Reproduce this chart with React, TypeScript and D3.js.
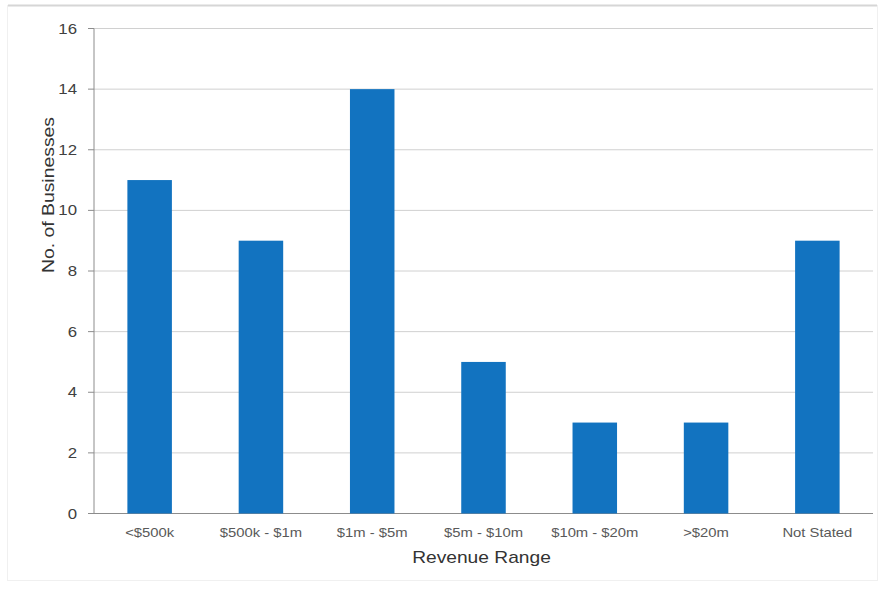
import React from "react";
import * as d3 from "d3";

const categories = ["<$500k", "$500k - $1m", "$1m - $5m", "$5m - $10m", "$10m - $20m", ">$20m", "Not Stated"];
const businesses = [11, 9, 14, 5, 3, 3, 9];
const yTicks = [0, 2, 4, 6, 8, 10, 12, 14, 16];

const W = 880;
const H = 589;
const plot = { left: 94, right: 873, top: 28.5, bottom: 513.5 };
const FONT = "'Liberation Sans', Arial, sans-serif";
const SX = 1.2; // horizontal text widening

export default function App() {
  const x = d3
    .scaleBand<string>()
    .domain(categories)
    .range([plot.left, plot.right])
    .paddingInner(0.6)
    .paddingOuter(0.3);
  const y = d3.scaleLinear().domain([0, 16]).range([plot.bottom, plot.top]);

  return (
    <svg
      width={W}
      height={H}
      style={{ position: "absolute", left: 0, top: 0, background: "#fff" }}
      fontFamily={FONT}
    >
      {/* outer frame */}
      <rect x={7.5} y={5.5} width={870} height={575} fill="none" stroke="#f0f0f0" strokeWidth={1} />
      <line x1={8} x2={877} y1={5.5} y2={5.5} stroke="#d6d6d6" strokeWidth={2} />

      {/* gridlines */}
      {yTicks.map((t) => (
        <line
          key={"g" + t}
          x1={plot.left}
          x2={plot.right}
          y1={y(t)}
          y2={y(t)}
          stroke={t === 0 ? "#8c8c8c" : "#d0d0d0"}
          strokeWidth={1}
        />
      ))}

      {/* y axis line and ticks */}
      <line x1={plot.left} x2={plot.left} y1={plot.top} y2={plot.bottom} stroke="#8c8c8c" />
      {yTicks.map((t) => (
        <line key={"t" + t} x1={plot.left - 6} x2={plot.left} y1={y(t)} y2={y(t)} stroke="#8c8c8c" />
      ))}

      {/* bars */}
      {categories.map((c, i) => (
        <rect
          key={c}
          x={x(c)}
          y={y(businesses[i])}
          width={x.bandwidth()}
          height={y(0) - y(businesses[i])}
          fill="#1273c0"
        />
      ))}

      {/* y tick labels */}
      {yTicks.map((t) => (
        <text
          key={"l" + t}
          transform={`translate(77,${y(t) + 5}) scale(${SX},1)`}
          textAnchor="end"
          fontSize={14}
          fill="#404040"
        >
          {t}
        </text>
      ))}

      {/* x tick labels */}
      {categories.map((c) => (
        <text
          key={"x" + c}
          transform={`translate(${(x(c) as number) + x.bandwidth() / 2},537) scale(${SX * 0.95},1)`}
          textAnchor="middle"
          fontSize={13}
          fill="#595959"
        >
          {c}
        </text>
      ))}

      {/* axis titles */}
      <text
        transform={`translate(${(plot.left + plot.right) / 2 - 2},563) scale(${SX},1)`}
        textAnchor="middle"
        fontSize={16}
        fill="#333"
      >
        Revenue Range
      </text>
      <text
        transform="translate(54,195) rotate(-90)"
        textAnchor="middle"
        fontSize={16}
        fill="#333"
        textLength={156}
        lengthAdjust="spacingAndGlyphs"
      >
        No. of Businesses
      </text>
    </svg>
  );
}
